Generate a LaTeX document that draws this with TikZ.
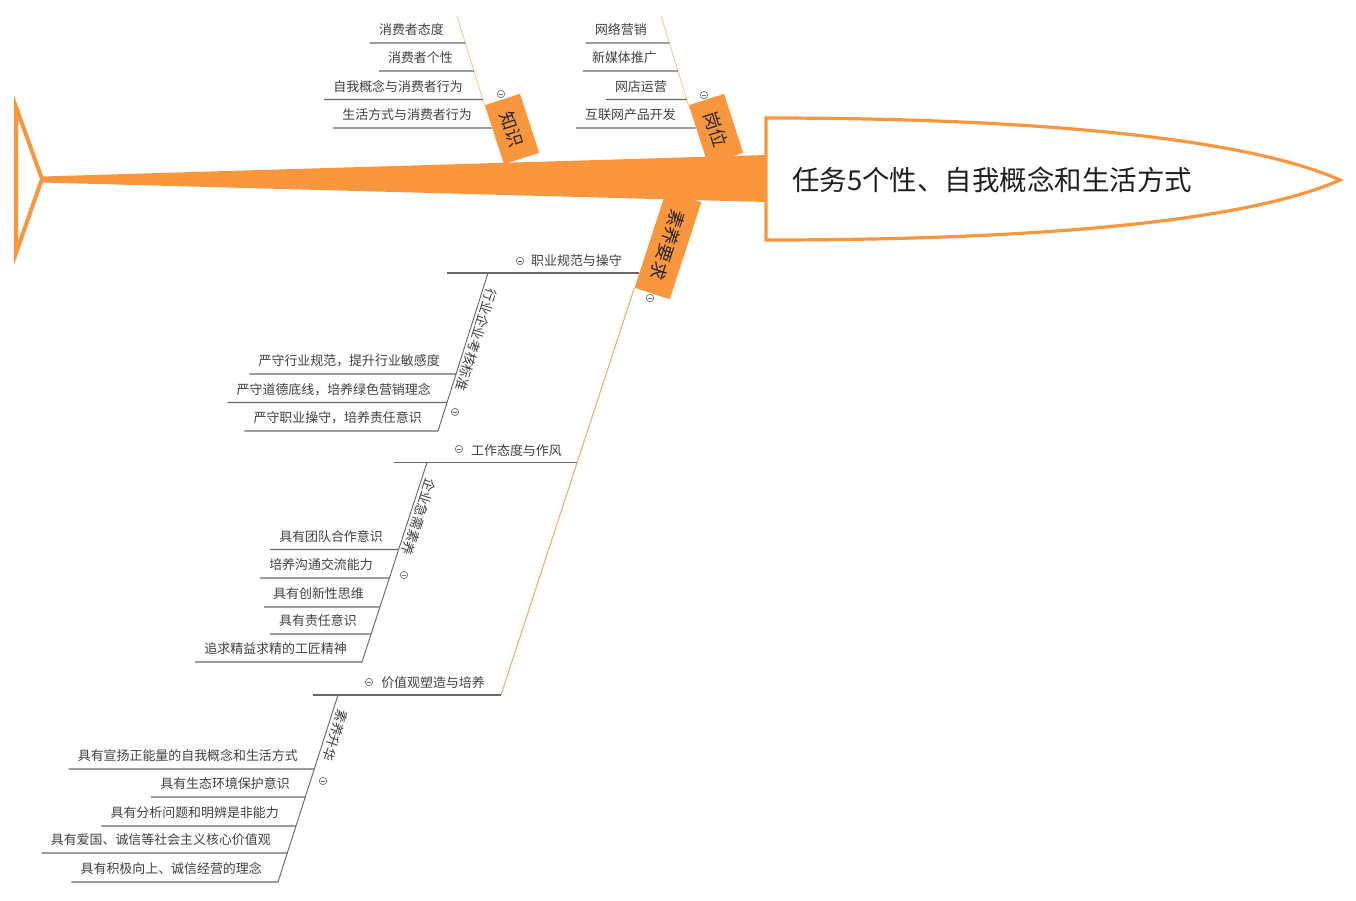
\documentclass[tikz,border=0pt]{standalone}
\usepackage{fontspec}
\setmainfont{Noto Sans CJK SC}
\definecolor{fishorange}{RGB}{250,150,62}
\definecolor{boneup}{RGB}{238,204,168}
\definecolor{bonedown}{RGB}{244,172,112}
\definecolor{twiggray}{RGB}{105,105,105}
\definecolor{txtgray}{RGB}{64,64,64}
\definecolor{foldgray}{RGB}{110,110,110}

\begin{document}
\begin{tikzpicture}[x=0.75pt, y=-0.75pt,
    bonebox/.style={fill=fishorange, minimum width=46.5pt, minimum height=27.75pt, inner sep=0pt, font=\fontsize{13.5}{15}\selectfont, text=black!85},
    item/.style={anchor=south east, inner xsep=6.75pt, inner ysep=4.6pt, text height=8pt, text depth=1.5pt, font=\fontsize{9.7}{11}\selectfont, text=txtgray},
    heading/.style={item, inner xsep=0pt},
    slant/.style={inner sep=1pt, font=\fontsize{10}{12}\selectfont, text=txtgray},
    headtext/.style={anchor=west, inner sep=0pt, font=\fontsize{20.6}{24}\selectfont, text=black!88},
    fold/.style={circle, draw=foldgray, line width=0.5pt, minimum size=5.5pt, inner sep=0pt,
        path picture={\draw[foldgray, line width=0.5pt] ([xshift=-1.5pt]path picture bounding box.center) -- ([xshift=1.5pt]path picture bounding box.center);}},
    bone/.style={draw=boneup, line width=0.7pt},
    lowbone/.style={draw=bonedown, line width=0.8pt},
    twig/.style={draw=twiggray, line width=0.9pt}
]
\useasboundingbox (0,0) rectangle (1356,900);

% Bone boxes (behind the spine)
\node[bonebox, rotate=-72] (zhishi) at (512,129) {知识};
\node[bonebox, rotate=-72] (gangwei) at (716,129) {岗位};
\node[bonebox, rotate=-108, minimum width=76.5pt] (suyang) at (668,245) {素养要求};

% Spine, tail and head
\fill[fishorange] (42,176.5) -- (766,155) -- (766,202) -- (42,182.5) -- cycle;
\draw[fishorange, line width=3pt, miter limit=20] (16,107) -- (42,179) -- (16,253) -- cycle;
\draw[fishorange, line width=2.4pt, fill=white] (766,118) .. controls (1050,118) and (1250,140) .. (1340,180)
    .. controls (1250,220) and (1050,240) .. (766,240) -- cycle;
\node[headtext] (task) at (792,180) {任务5个性、自我概念和生活方式};

% Bones
\coordinate (zsA) at (457,16);
\coordinate (zsB) at (zhishi.south west);
\coordinate (gwA) at (661,16);
\coordinate (gwB) at (gangwei.south west);
\coordinate (syA) at (suyang.south east);
\coordinate (syB) at (501,695);
\draw[bone] (zsA) -- (zsB);
\draw[bone] (gwA) -- (gwB);
\draw[lowbone] (syA) -- (syB);

\node[fold] (fzs) at (501,94) {};
\node[fold] (fgw) at (704,95) {};
\node[fold] (fsy) at (650,298) {};

% Knowledge
\node[item] (k1) at (453,43) {消费者态度};
\node[item] (k2) at (462,71) {消费者个性};
\node[item] (k3) at (472,99.5) {自我概念与消费者行为};
\node[item] (k4) at (481,128) {生活方式与消费者行为};
\draw[twig] (k1.south west) -- (intersection of k1.south west--k1.south east and zsA--zsB);
\draw[twig] (k2.south west) -- (intersection of k2.south west--k2.south east and zsA--zsB);
\draw[twig] (k3.south west) -- (intersection of k3.south west--k3.south east and zsA--zsB);
\draw[twig] (k4.south west) -- (intersection of k4.south west--k4.south east and zsA--zsB);

% Posts
\node[item] (g1) at (656,43) {网络营销};
\node[item] (g2) at (666,71) {新媒体推广};
\node[item] (g3) at (676,99.5) {网店运营};
\node[item] (g4) at (685,128) {互联网产品开发};
\draw[twig] (g1.south west) -- (intersection of g1.south west--g1.south east and gwA--gwB);
\draw[twig] (g2.south west) -- (intersection of g2.south west--g2.south east and gwA--gwB);
\draw[twig] (g3.south west) -- (intersection of g3.south west--g3.south east and gwA--gwB);
\draw[twig] (g4.south west) -- (intersection of g4.south west--g4.south east and gwA--gwB);

% Requirements: headings
\node[heading] (hd1) at (622,274) {职业规范与操守};
\node[heading] (hd2) at (562,463.5) {工作态度与作风};
\node[heading] (hd3) at (485,696) {价值观塑造与培养};
\node[fold] (fh1) at (520,261) {};
\node[fold] (fh2) at (459,449) {};
\node[fold] (fh3) at (369,682) {};
\coordinate (hd1L) at (447,273);
\coordinate (hd2L) at (394,462.5);
\coordinate (hd3L) at (313,695);
\draw[twig] (hd1L) -- (intersection of hd1L--[xshift=1pt]hd1L and syA--syB);
\draw[twig] (hd2L) -- (intersection of hd2L--[xshift=1pt]hd2L and syA--syB);
\draw[twig] (hd3L) -- (intersection of hd3L--[xshift=1pt]hd3L and syA--syB);

% Sub-bones
\coordinate (sb1a) at (488,273);
\coordinate (sb1b) at (438,431);
\coordinate (sb2a) at (427,462.5);
\coordinate (sb2b) at (362,662);
\coordinate (sb3a) at (338,695);
\coordinate (sb3b) at (278,882);
\draw[twig, line width=0.7pt] (sb1a) -- (sb1b);
\draw[twig, line width=0.7pt] (sb2a) -- (sb2b);
\draw[twig, line width=0.7pt] (sb3a) -- (sb3b);
\node[slant, rotate=-107.5] (sl1) at (476,340) {行业企业考核标准};
\node[slant, rotate=-107.9] (sl2) at (419,517) {企业急需素养};
\node[slant, rotate=-107.8] (sl3) at (335.5,735.5) {素养升华};
\node[fold] (fs1) at (455,412) {};
\node[fold] (fs2) at (404,575) {};
\node[fold] (fs3) at (323,781) {};

% Industry standards
\node[item] (r1) at (449,374) {严守行业规范，提升行业敏感度};
\node[item] (r2) at (440,402.5) {严守道德底线，培养绿色营销理念};
\node[item] (r3) at (431,431) {严守职业操守，培养责任意识};
\draw[twig] (r1.south west) -- (intersection of r1.south west--r1.south east and sb1a--sb1b);
\draw[twig] (r2.south west) -- (intersection of r2.south west--r2.south east and sb1a--sb1b);
\draw[twig] (r3.south west) -- (intersection of r3.south west--r3.south east and sb1a--sb1b);

% Enterprise needs
\node[item] (q1) at (392,549.5) {具有团队合作意识};
\node[item] (q2) at (382,578) {培养沟通交流能力};
\node[item] (q3) at (373,607) {具有创新性思维};
\node[item] (q4) at (366,634) {具有责任意识};
\node[item] (q5) at (356,662) {追求精益求精的工匠精神};
\draw[twig] (q1.south west) -- (intersection of q1.south west--q1.south east and sb2a--sb2b);
\draw[twig] (q2.south west) -- (intersection of q2.south west--q2.south east and sb2a--sb2b);
\draw[twig] (q3.south west) -- (intersection of q3.south west--q3.south east and sb2a--sb2b);
\draw[twig] (q4.south west) -- (intersection of q4.south west--q4.south east and sb2a--sb2b);
\draw[twig] (q5.south west) -- (intersection of q5.south west--q5.south east and sb2a--sb2b);

% Values
\node[item] (v1) at (307,769) {具有宣扬正能量的自我概念和生活方式};
\node[item] (v2) at (299,797) {具有生态环境保护意识};
\node[item] (v3) at (288,826) {具有分析问题和明辨是非能力};
\node[item] (v4) at (280,853) {具有爱国、诚信等社会主义核心价值观};
\node[item] (v5) at (271,882) {具有积极向上、诚信经营的理念};
\draw[twig] (v1.south west) -- (intersection of v1.south west--v1.south east and sb3a--sb3b);
\draw[twig] (v2.south west) -- (intersection of v2.south west--v2.south east and sb3a--sb3b);
\draw[twig] (v3.south west) -- (intersection of v3.south west--v3.south east and sb3a--sb3b);
\draw[twig] (v4.south west) -- (intersection of v4.south west--v4.south east and sb3a--sb3b);
\draw[twig] (v5.south west) -- (intersection of v5.south west--v5.south east and sb3a--sb3b);

\end{tikzpicture}
\end{document}
